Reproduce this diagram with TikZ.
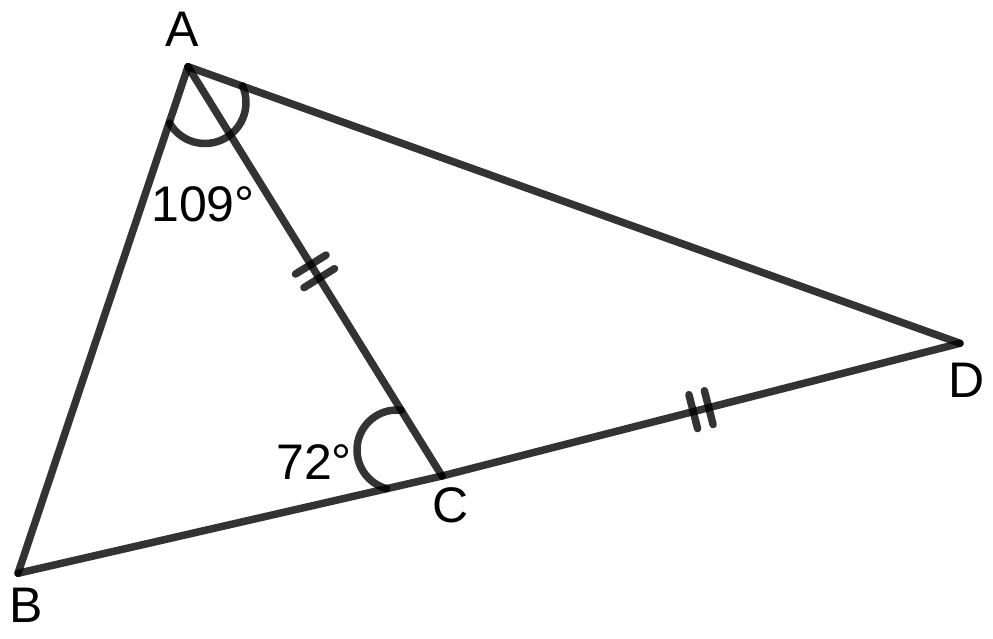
\documentclass[tikz,border=0pt]{standalone}
\usepackage{fontspec}
\setmainfont{Liberation Sans}
\usetikzlibrary{calc}
\begin{document}
\begin{tikzpicture}[x=1pt, y=1pt,
    seg/.style={draw=black, draw opacity=0.8, line width=7.5pt, line cap=round},
    lbl/.style={anchor=base west, inner sep=0pt, font=\fontsize{50}{60}\selectfont}]
    \useasboundingbox (0, 0) rectangle (993, 639);
    \coordinate (A) at (188, 572.3);
    \coordinate (B) at (18, 65.7);
    \coordinate (C) at (442, 163);
    \coordinate (D) at (960, 295.7);
    \draw [seg] (A) -- (B);
    \draw [seg] (B) -- (C);
    \draw [seg] (C) -- (A);
    \draw [seg] (A) -- (D);
    \draw [seg] (C) -- (D);
    % angle marks
    \draw [seg] (205, 536.5) ++(210:41) arc [start angle=210, end angle=384, radius=41];
    \draw [seg] (397, 189) ++(84:40) arc [start angle=84, end angle=255, radius=40];
    % equal sides
    \coordinate (mAC) at ($(A)!0.5!(C)$);
    \coordinate (mCD) at ($(C)!0.5!(D)$);
    \foreach \s in {-8pt, 8pt} {
        \draw [seg] ($(mAC)!\s!(C)!18pt!90:(C)$) -- ($(mAC)!\s!(C)!18pt!-90:(C)$);
        \draw [seg] ($(mCD)!\s!(D)!17.5pt!90:(D)$) -- ($(mCD)!\s!(D)!17.5pt!-90:(D)$);
    }
    \node [lbl] (lA) at (165, 592) {A};
    \node [lbl] (lB) at (9.5, 16) {B};
    \node [lbl] (lC) at (432.5, 116.5) {C};
    \node [lbl] (lD) at (948, 241) {D};
    \node [lbl] (aA) at (151, 417) {109°};
    \node [lbl] (aC) at (276, 159) {72°};
\end{tikzpicture}
\end{document}
